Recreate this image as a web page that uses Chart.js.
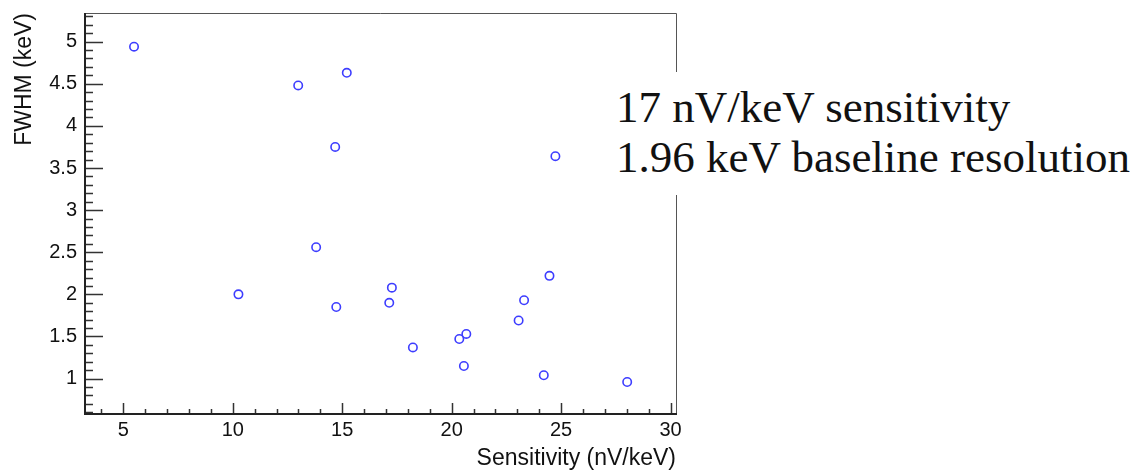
<!DOCTYPE html>
<html>
<head>
<meta charset="utf-8">
<title>FWHM vs Sensitivity</title>
<script src="https://cdn.jsdelivr.net/npm/chart.js@4.4.1/dist/chart.umd.min.js"></script>
<style>
  html, body { margin: 0; padding: 0; background: #fff; }
  #wrap { position: relative; width: 1136px; height: 472px; }
  #note {
    position: absolute; left: 600px; top: 72px; width: 536px; height: 123px;
    background: #fff; box-sizing: border-box; padding: 10px 0 0 16px;
    font-family: "Liberation Serif", serif; font-size: 45px; line-height: 50px;
    color: #111; white-space: nowrap;
  }
</style>
</head>
<body>
<div id="wrap">
  <canvas id="scatterChart" width="1136" height="472"></canvas>
  <div id="note">17 nV/keV sensitivity<br>1.96 keV baseline resolution</div>
</div>
<script>
// measured detectors: sensitivity (nV/keV) and baseline FWHM (keV)
const sensitivity = [5.49, 12.99, 15.21, 14.68, 24.74, 13.81, 10.26, 14.73, 17.27, 17.15,
                     18.23, 20.35, 20.67, 20.56, 23.06, 23.31, 24.47, 24.21, 28.02];
const fwhm = [4.94, 4.48, 4.63, 3.75, 3.64, 2.56, 2.00, 1.85, 2.08, 1.90,
              1.37, 1.47, 1.53, 1.15, 1.69, 1.93, 2.22, 1.04, 0.96];

const xTicks = [5, 10, 15, 20, 25, 30];
const yTicks = [1, 1.5, 2, 2.5, 3, 3.5, 4, 4.5, 5];

const points = sensitivity.map(function (x, i) {
    return { x: x, y: fwhm[i] };
});

// ROOT style frame with ticks pointing inside
const frameTicks = {
    id: 'frameTicks',
    afterDatasetsDraw: function (chart) {
        const ctx = chart.ctx;
        const a = chart.chartArea;
        const xs = chart.scales.x;
        const ys = chart.scales.y;
        ctx.save();
        ctx.strokeStyle = '#333';
        ctx.lineWidth = 1.5;
        ctx.beginPath();
        for (let v = 4; v <= 30; v++) {
            const px = Math.round(xs.getPixelForValue(v)) + 0.5;
            const len = v % 5 === 0 ? 11 : 5;
            ctx.moveTo(px, a.bottom);
            ctx.lineTo(px, a.bottom - len);
        }
        for (let k = 6; k <= 53; k++) {
            const py = Math.round(ys.getPixelForValue(k / 10)) + 0.5;
            const len = k % 5 === 0 ? 18 : 8;
            ctx.moveTo(a.left, py);
            ctx.lineTo(a.left + len, py);
        }
        ctx.stroke();

        ctx.strokeStyle = '#555';
        ctx.lineWidth = 1;
        ctx.beginPath();
        ctx.moveTo(a.left, a.top + 0.5);
        ctx.lineTo(a.right + 0.5, a.top + 0.5);
        ctx.lineTo(a.right + 0.5, a.bottom);
        ctx.stroke();

        ctx.strokeStyle = '#222';
        ctx.lineWidth = 2;
        ctx.beginPath();
        ctx.moveTo(a.left, a.top);
        ctx.lineTo(a.left, a.bottom);
        ctx.lineTo(a.right + 1, a.bottom);
        ctx.stroke();
        ctx.restore();
    }
};

const ctx = document.getElementById('scatterChart').getContext('2d');
const chart = new Chart(ctx, {
    type: 'scatter',
    data: {
        datasets: [{
            data: points,
            pointStyle: 'circle',
            pointRadius: 4.2,
            pointHoverRadius: 4.2,
            borderWidth: 1.6,
            borderColor: '#3d3dff',
            backgroundColor: 'rgba(0,0,0,0)'
        }]
    },
    options: {
        responsive: false,
        devicePixelRatio: 1,
        animation: false,
        layout: { padding: { left: 0, top: 13, right: 460, bottom: 0 } },
        plugins: {
            legend: { display: false },
            tooltip: { enabled: false }
        },
        scales: {
            x: {
                type: 'linear',
                min: 3.25,
                max: 30.25,
                afterFit: function (s) {
                    s.height = 58;
                    s.paddingLeft = 0;
                    s.paddingRight = 0;
                },
                afterBuildTicks: function (s) { s.ticks = xTicks.map(function (v) { return { value: v }; }); },
                grid: { display: false, drawTicks: false },
                border: { display: false },
                ticks: {
                    padding: 4,
                    color: '#111',
                    font: { family: 'Liberation Sans', size: 20 },
                    maxRotation: 0,
                    callback: function (v) { return String(v); }
                },
                title: {
                    display: true,
                    text: 'Sensitivity (nV/keV)',
                    align: 'end',
                    color: '#111',
                    padding: { top: 0, bottom: 0 },
                    font: { family: 'Liberation Sans', size: 23 }
                }
            },
            y: {
                type: 'linear',
                min: 0.58,
                max: 5.34,
                afterFit: function (s) {
                    s.width = 85;
                    s.paddingTop = 0;
                    s.paddingBottom = 0;
                },
                afterBuildTicks: function (s) { s.ticks = yTicks.map(function (v) { return { value: v }; }); },
                grid: { display: false, drawTicks: false },
                border: { display: false },
                ticks: {
                    padding: 8,
                    color: '#111',
                    font: { family: 'Liberation Sans', size: 20 },
                    callback: function (v) { return String(v); }
                },
                title: {
                    display: true,
                    text: 'FWHM (keV)',
                    align: 'end',
                    color: '#111',
                    padding: { top: 11, bottom: 0 },
                    font: { family: 'Liberation Sans', size: 23 }
                }
            }
        }
    },
    plugins: [frameTicks]
});
</script>
</body>
</html>
